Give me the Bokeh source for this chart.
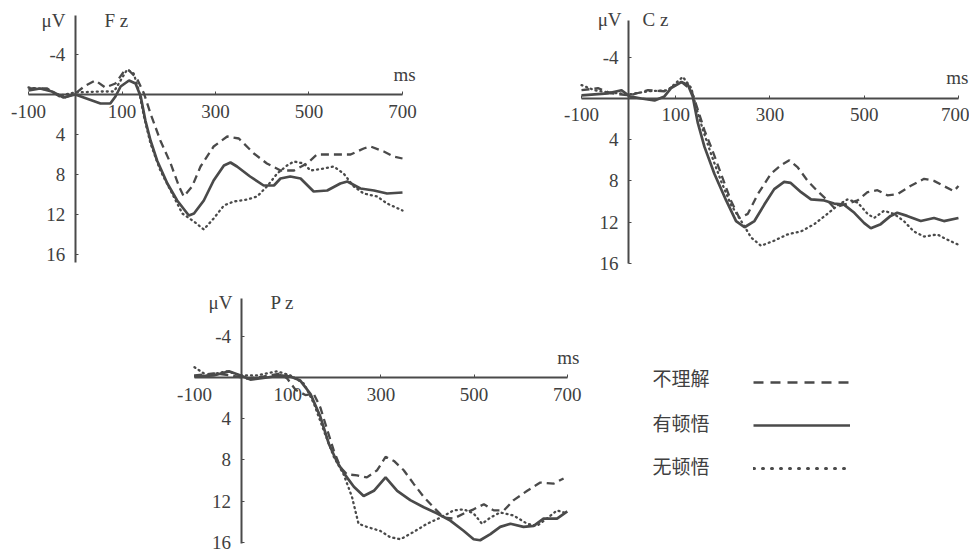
from bokeh.plotting import figure
from bokeh.models import Range1d, FixedTicker, Label, Legend, LegendItem, Spacer
from bokeh.layouts import column, row
from bokeh.embed import file_html
from bokeh.resources import INLINE

# ---------------- data ----------------
x_ticks = [-100, 100, 300, 500, 700]
y_ticks = [-4, 4, 8, 12, 16]
legend_labels = ["不理解", "有顿悟", "无顿悟"]

# Fz
fz_t_yes = [-100, -75, -50, -25, 0, 54, 75, 86, 97, 115, 129, 140, 150, 161, 175, 197, 218, 243, 254, 275,
            296, 318, 332, 346, 374, 403, 425, 439, 460, 482, 510, 539, 567, 582, 610, 639, 667, 700]
fz_v_yes = [-0.4, -0.6, -0.3, 0.3, 0.0, 0.9, 0.9, 0.2, -0.8, -1.4, -1.1, 0.2, 2.6, 4.6, 6.6, 8.9, 10.6, 12.1, 11.9, 10.6,
            8.6, 7.1, 6.8, 7.2, 8.2, 9.1, 9.1, 8.4, 8.2, 8.4, 9.7, 9.6, 8.9, 8.7, 9.4, 9.6, 9.9, 9.8]
fz_t_not = [-100, -60, -27, 0, 22, 43, 64, 86, 104, 115, 132, 147, 161, 182, 204, 222, 232, 250, 268, 296,
            325, 350, 382, 410, 439, 468, 496, 517, 553, 589, 617, 632, 660, 681, 700]
fz_v_not = [-0.6, -0.6, 0.4, -0.1, -0.9, -1.4, -0.7, -1.1, -2.3, -2.4, -1.6, -0.1, 1.9, 4.6, 6.9, 9.2, 10.2, 9.2, 7.2, 5.2,
            4.2, 4.4, 5.9, 6.9, 7.6, 7.6, 6.9, 6.0, 6.0, 6.0, 5.4, 5.2, 5.7, 6.2, 6.4]
fz_t_no = [-100, -60, -32, 0, 54, 83, 97, 111, 125, 136, 147, 161, 182, 204, 229, 254, 275, 296, 318, 339,
           368, 389, 410, 432, 453, 468, 489, 503, 532, 553, 574, 596, 617, 646, 667, 700]
fz_v_no = [-0.7, -0.5, 0.1, -0.2, -0.3, -0.3, -1.4, -2.5, -2.1, -0.4, 2.2, 4.9, 7.6, 9.6, 11.9, 12.7, 13.5, 12.4, 11.1, 10.7,
           10.5, 10.2, 9.2, 7.9, 7.1, 6.7, 6.9, 7.6, 7.4, 7.2, 7.9, 9.2, 9.9, 10.2, 10.9, 11.6]

# Cz
cz_t_yes = [-100, -44, -15, 2, 27, 55, 76, 90, 112, 126, 136, 147, 161, 182, 207, 228, 246, 267, 288, 309,
            330, 344, 366, 387, 415, 436, 457, 479, 500, 514, 535, 556, 570, 591, 620, 648, 669, 700]
cz_v_yes = [-0.3, -0.5, -0.8, -0.2, 0.0, 0.2, -0.2, -1.0, -1.6, -1.3, -0.2, 2.4, 4.7, 7.3, 9.9, 11.9, 12.5, 11.9, 10.3, 8.8,
            8.1, 8.2, 9.1, 9.8, 9.9, 10.2, 10.3, 11.1, 12.1, 12.6, 12.2, 11.4, 11.1, 11.4, 11.9, 11.6, 11.9, 11.6]
cz_t_not = [-100, -65, -37, 2, 41, 76, 112, 133, 147, 161, 175, 196, 217, 235, 253, 274, 302, 323, 341, 359,
            380, 401, 422, 436, 457, 486, 507, 528, 549, 570, 598, 627, 648, 669, 690, 700]
cz_v_not = [-0.8, -1.0, -0.5, -0.3, -0.8, -0.7, -1.6, -0.8, 1.1, 3.1, 4.7, 7.3, 9.9, 11.6, 11.2, 9.3, 7.3, 6.5, 6.0, 6.7,
            8.0, 9.0, 9.9, 10.6, 10.3, 9.9, 9.1, 8.9, 9.4, 9.3, 8.5, 7.8, 8.0, 8.5, 9.0, 8.5]
cz_t_no = [-100, -72, -44, 2, 41, 83, 115, 133, 143, 158, 175, 196, 217, 239, 260, 281, 309, 337, 366, 394,
           422, 443, 464, 486, 507, 521, 542, 563, 584, 605, 627, 655, 676, 700]
cz_v_no = [-1.3, -0.8, -0.6, -0.4, -0.7, -0.8, -2.1, -1.0, 0.8, 3.1, 5.4, 8.0, 10.3, 11.9, 13.5, 14.3, 13.8, 13.2, 12.9, 12.2,
           11.2, 10.4, 9.8, 10.1, 11.2, 11.6, 10.9, 11.2, 11.9, 12.9, 13.4, 13.2, 13.7, 14.2]

# Pz
pz_t_yes = [-100, -59, -26, -1, 20, 56, 84, 106, 127, 149, 170, 188, 206, 224, 242, 263, 285, 310, 335, 363,
            392, 421, 449, 478, 499, 513, 535, 556, 578, 606, 628, 649, 678, 700]
pz_v_yes = [-0.1, -0.2, -0.6, -0.2, 0.2, 0.0, -0.2, -0.1, 0.3, 1.6, 3.8, 6.4, 8.2, 9.5, 10.6, 11.5, 11.0, 9.7, 11.0, 11.9,
            12.6, 13.2, 13.9, 14.9, 15.7, 15.8, 15.2, 14.5, 14.2, 14.5, 14.4, 13.7, 13.7, 13.0]
pz_t_not = [-100, -59, -23, 13, 49, 84, 99, 117, 138, 156, 170, 185, 199, 213, 227, 249, 270, 292, 310, 328,
            349, 370, 392, 413, 435, 456, 478, 499, 521, 542, 564, 585, 614, 642, 671, 692]
pz_v_not = [-0.2, -0.4, -0.2, 0.1, -0.1, -0.4, 0.1, 1.2, 1.7, 1.6, 2.9, 5.1, 7.1, 8.7, 9.4, 9.5, 9.7, 9.0, 7.7, 8.1,
            9.0, 10.3, 11.6, 12.6, 13.6, 13.7, 13.2, 12.8, 12.3, 12.9, 12.9, 11.9, 11.0, 10.2, 10.3, 9.8]
pz_t_no = [-100, -73, -30, -1, 34, 77, 106, 135, 156, 177, 199, 220, 238, 252, 270, 299, 320, 342, 370, 399,
           428, 456, 478, 499, 517, 535, 556, 585, 614, 635, 656, 678, 700]
pz_v_no = [-1.0, -0.2, -0.6, -0.2, -0.2, -0.6, -0.2, 0.6, 2.5, 5.1, 7.7, 9.4, 11.6, 14.2, 14.5, 14.9, 15.5, 15.7, 15.0, 14.2,
           13.6, 12.9, 12.8, 13.2, 14.2, 13.6, 13.1, 13.4, 14.2, 14.4, 13.7, 12.9, 13.2]

# ---------------- styling ----------------
INK = "#4a4a4a"
TXT = "#404040"
SERIF = "Liberation Serif"
CJK = "Noto Sans CJK SC"
DASH = "8 5"
DOT = "1 4"
FS = "19px"
NAN = float("nan")


def text_label(p, x, y, text, align, font=SERIF, size=FS):
    p.add_layout(Label(x=x, y=y, text=text, text_align=align, text_baseline="middle",
                       text_font=font, text_font_size=size, text_color=TXT))


def panel(name, t_not, v_not, t_yes, v_yes, t_no, v_no, xr, yr, w, h, ybounds, lab):
    p = figure(width=w, height=h, x_range=Range1d(*xr), y_range=Range1d(*yr),
               output_backend="svg", toolbar_location=None, title=None,
               min_border_left=0, min_border_right=0, min_border_top=0, min_border_bottom=0)
    p.outline_line_color = None
    p.grid.visible = False
    p.background_fill_color = "white"
    p.border_fill_color = "white"
    for ax, ticks, bnds, stand in ((p.xaxis[0], x_ticks, (-100, 700), 10), (p.yaxis[0], y_ticks, ybounds, 10)):
        ax.fixed_location = 0
        ax.bounds = bnds
        ax.ticker = FixedTicker(ticks=ticks)
        ax.major_label_overrides = {t: str(t) for t in ticks}
        ax.axis_line_color = INK
        ax.axis_line_width = 2
        ax.major_tick_line_color = INK
        ax.major_tick_line_width = 1
        ax.major_tick_in = 3
        ax.major_tick_out = 0
        ax.minor_tick_line_color = None
        ax.major_label_text_font = SERIF
        ax.major_label_text_font_size = FS
        ax.major_label_text_color = TXT
        ax.major_label_standoff = stand
    p.line(t_not, v_not, line_color=INK, line_width=2.3, line_dash=DASH)
    p.line(t_yes, v_yes, line_color=INK, line_width=2.7)
    p.line(t_no, v_no, line_color=INK, line_width=2.3, line_dash=DOT, line_cap="round")
    (mx, my), (nx, ny), (sx, sy) = lab
    text_label(p, mx, my, "μV", "right")
    text_label(p, nx, ny, name, "left")
    text_label(p, sx, sy, "ms", "right")
    return p


fz = panel("F z", fz_t_not, fz_v_not, fz_t_yes, fz_v_yes, fz_t_no, fz_v_no,
           (-159.9, 781.3), (18.6, -9.4), 440, 280, (-7.9, 16.8),
           ((-20.9, -7.4), (62.6, -7.4), (728, -2.0)))
cz = panel("C z", cz_t_not, cz_v_not, cz_t_yes, cz_v_yes, cz_t_no, cz_v_no,
           (-187.0, 723.4), (17.67, -9.51), 429, 280, (-7.6, 16.0),
           ((-15, -7.7), (29.5, -7.7), (721, -2.0)))
pz = panel("P z", pz_t_not, pz_v_not, pz_t_yes, pz_v_yes, pz_t_no, pz_v_no,
           (-194.4, 1372.1), (16.99, -9.42), 730, 272, (-7.7, 16.1),
           ((-18.5, -7.3), (63, -7.3), (726, -1.9)))

# legend keys styled like the original key (they hold no visible data of their own)
k_not = pz.line([NAN], [NAN], line_color=INK, line_width=2.4, line_dash="10 7")
k_yes = pz.line([NAN], [NAN], line_color=INK, line_width=2.7)
k_no = pz.line([NAN], [NAN], line_color=INK, line_width=3, line_dash="1 8", line_cap="round")
leg = Legend(items=[LegendItem(label=" ", renderers=[k]) for k in (k_not, k_yes, k_no)],
             location=(603, 74), glyph_width=97, glyph_height=20, spacing=23,
             label_width=0, label_standoff=0, label_height=20, label_text_font_size="1px",
             padding=0, margin=0, border_line_color=None, background_fill_alpha=0)
pz.add_layout(leg, "center")
for lbl, yv in zip(legend_labels, (0.0, 4.37, 8.54)):
    text_label(pz, 883, yv, lbl, "left", font=CJK, size="19px")

layout = column(row(fz, Spacer(width=100), cz), row(Spacer(width=150), pz))

open("out.html", "w").write(file_html(layout, INLINE))
